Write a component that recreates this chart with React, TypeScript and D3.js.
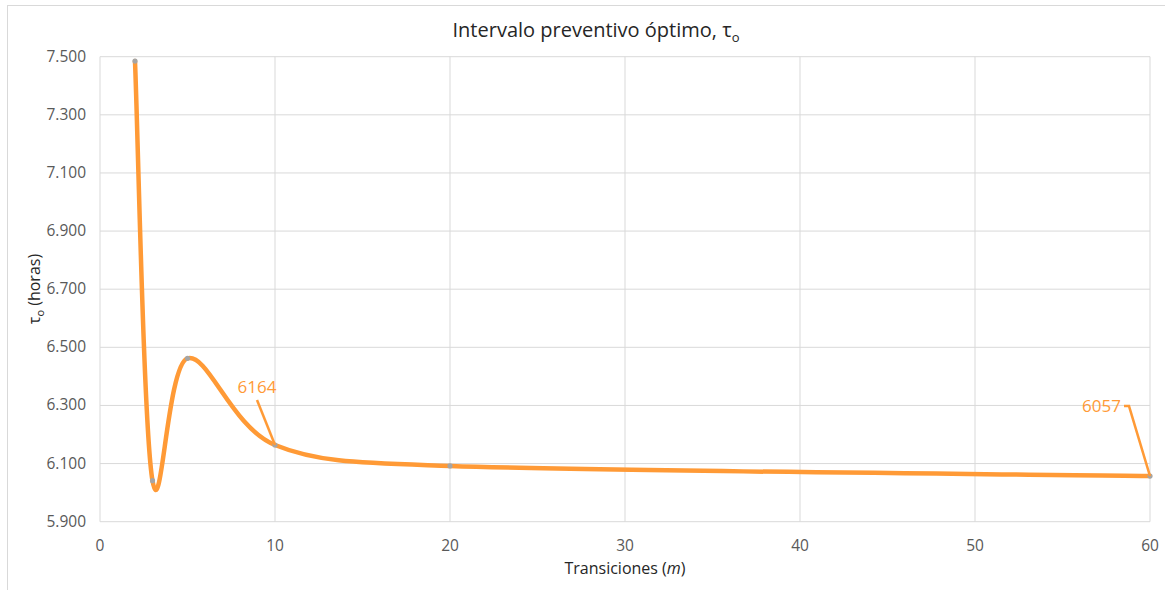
import React from "react";
import * as d3 from "d3";

// Optimal preventive interval τo (hours) against the number of transitions m
const transitions = [2, 3, 5, 10, 20, 60];
const tauHours = [7485, 6041, 6462, 6164, 6092, 6057];

const xTicks = [0, 10, 20, 30, 40, 50, 60];
const yTicks = [5900, 6100, 6300, 6500, 6700, 6900, 7100, 7300, 7500];

// Data labels shown on the chart (index into the series) and their label offsets
const labelled = [
  { index: 3, dx: -18, dy: -45, anchor: "middle", hook: false },
  { index: 5, dx: -27, dy: -70, anchor: "end", hook: true },
];

const W = 1165;
const H = 590;
const FONT = "'Open Sans', 'Liberation Sans', sans-serif";
const ORANGE = "#ff9a36";

type P = [number, number];

// Spreadsheet-style smoothing: cubic Bézier segments whose control arms are
// (next - previous) / 6, each arm capped at half of its segment's length.
function smoothPath(pts: P[]): string {
  const path = d3.path();
  if (!pts.length) return "";
  path.moveTo(pts[0][0], pts[0][1]);
  const n = pts.length;
  const arm = (prev: P, next: P, limit: number): P => {
    let ax = (next[0] - prev[0]) / 6;
    let ay = (next[1] - prev[1]) / 6;
    const len = Math.hypot(ax, ay);
    if (len > limit && len > 0) {
      ax *= limit / len;
      ay *= limit / len;
    }
    return [ax, ay];
  };
  for (let i = 0; i < n - 1; i++) {
    const p0 = pts[Math.max(0, i - 1)];
    const p1 = pts[i];
    const p2 = pts[i + 1];
    const p3 = pts[Math.min(n - 1, i + 2)];
    const seg = Math.hypot(p2[0] - p1[0], p2[1] - p1[1]);
    const a1 = arm(p0, p2, seg / 2);
    const a2 = arm(p1, p3, seg / 2);
    path.bezierCurveTo(p1[0] + a1[0], p1[1] + a1[1], p2[0] - a2[0], p2[1] - a2[1], p2[0], p2[1]);
  }
  return path.toString();
}

export default function App() {
  const x = d3.scaleLinear().domain([0, 60]).range([100, 1150]);
  const y = d3.scaleLinear().domain([5900, 7500]).range([521.7, 56.7]);

  const pts: P[] = transitions.map((m, i) => [x(m), y(tauHours[i])]);

  const fmtY = (v: number) => d3.format(".3f")(v / 1000);

  return (
    <svg
      width={W}
      height={H}
      style={{ position: "absolute", left: 0, top: 0, background: "#fff" }}
      fontFamily={FONT}
    >
      {/* chart frame */}
      <rect x={7.5} y={5.5} width={W + 10} height={H + 10} fill="#fff" stroke="#d9d9d9" strokeWidth={1} />

      {/* title */}
      <text x={596} y={37} textAnchor="middle" fontSize={20} fill="#262626">
        Intervalo preventivo óptimo, τ
        <tspan fontSize={13} dy={5}>o</tspan>
      </text>

      {/* gridlines */}
      {yTicks.map((t) => (
        <line key={"gy" + t} x1={x(0)} x2={x(60)} y1={y(t)} y2={y(t)} stroke="#d9d9d9" strokeWidth={1} />
      ))}
      {xTicks.map((t) => (
        <line key={"gx" + t} x1={x(t)} x2={x(t)} y1={y(7500)} y2={y(5900)} stroke="#d9d9d9" strokeWidth={1} />
      ))}

      {/* tick labels */}
      {yTicks.map((t) => (
        <text key={"ty" + t} x={86} y={y(t) + 5} textAnchor="end" fontSize={15.5} fill="#595959">
          {fmtY(t)}
        </text>
      ))}
      {xTicks.map((t) => (
        <text key={"tx" + t} x={x(t)} y={551} textAnchor="middle" fontSize={15.5} fill="#595959">
          {t}
        </text>
      ))}

      {/* axis titles */}
      <text x={625} y={574} textAnchor="middle" fontSize={16} fill="#262626">
        Transiciones (<tspan fontStyle="italic">m</tspan>)
      </text>
      <text transform="translate(40,289) rotate(-90)" textAnchor="middle" fontSize={16} fill="#262626">
        τ<tspan fontSize={11} dy={4}>o</tspan>
        <tspan dy={-4}> (horas)</tspan>
      </text>

      {/* smoothed series */}
      <path d={smoothPath(pts)} fill="none" stroke={ORANGE} strokeWidth={4.5} strokeLinejoin="round" strokeLinecap="round" />

      {/* markers */}
      {pts.map((p, i) => (
        <circle key={"m" + i} cx={p[0]} cy={p[1]} r={2.6} fill="#a5a5a5" />
      ))}

      {/* data labels with leader lines */}
      {labelled.map((l) => {
        const [px, py] = pts[l.index];
        const lx = px + l.dx;
        const ly = py + l.dy;
        const leader = l.hook
          ? `M${lx + 1},${ly} L${lx + 6},${ly} L${px},${py}`
          : `M${lx},${ly} L${px},${py}`;
        const tx = l.hook ? lx - 2 : lx;
        const ty = l.hook ? ly + 6 : ly - 7;
        return (
          <g key={"l" + l.index}>
            <path d={leader} fill="none" stroke={ORANGE} strokeWidth={2.5} />
            <text x={tx} y={ty} textAnchor={l.anchor as any} fontSize={17} fill={ORANGE}>
              {tauHours[l.index]}
            </text>
          </g>
        );
      })}
    </svg>
  );
}
